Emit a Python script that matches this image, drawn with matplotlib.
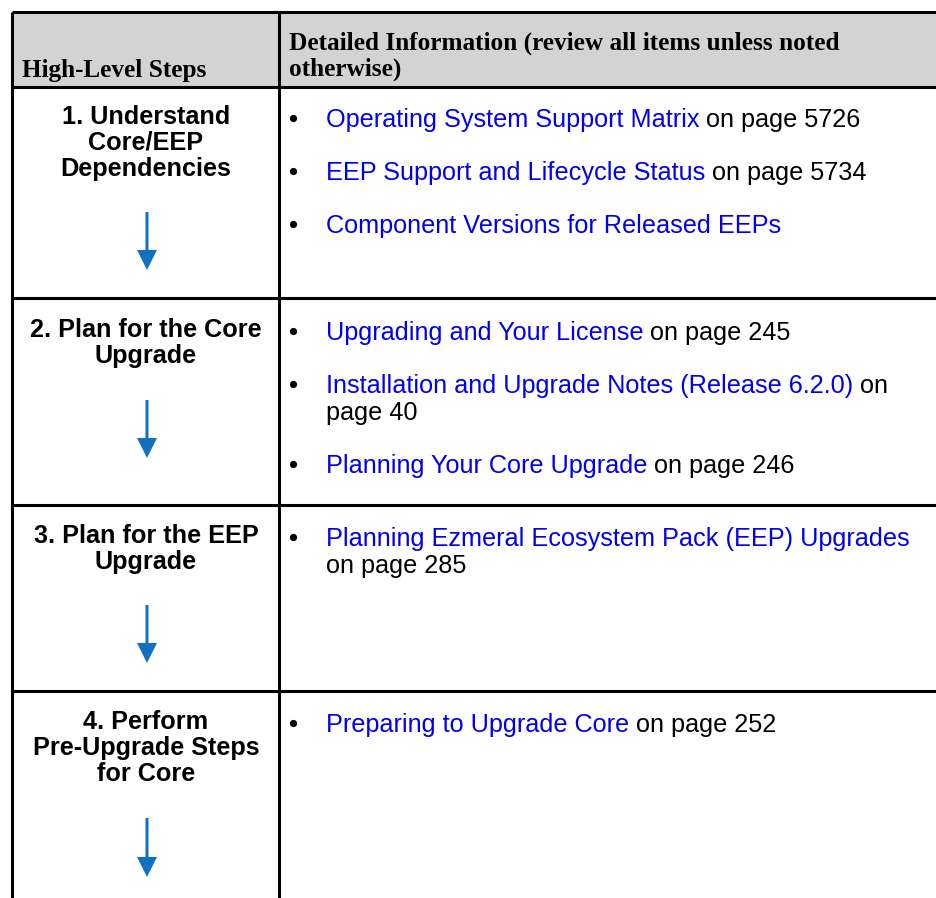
import matplotlib
matplotlib.use("Agg")
import matplotlib.pyplot as plt
from matplotlib.patches import Rectangle, FancyArrow

W, H = 937, 898
DPI = 100

header_left = "High-Level Steps"
header_right = ["Detailed Information (review all items unless noted", "otherwise)"]

steps = [
    ["1. Understand", "Core/EEP", "Dependencies"],
    ["2. Plan for the Core", "Upgrade"],
    ["3. Plan for the EEP", "Upgrade"],
    ["4. Perform", "Pre-Upgrade Steps", "for Core"],
]

# each item: list of lines; each line: (link text, plain text)
items = [
    [
        [("Operating System Support Matrix", " on page 5726")],
        [("EEP Support and Lifecycle Status", " on page 5734")],
        [("Component Versions for Released EEPs", "")],
    ],
    [
        [("Upgrading and Your License", " on page 245")],
        [("Installation and Upgrade Notes (Release 6.2.0)", " on"), ("", "page 40")],
        [("Planning Your Core Upgrade", " on page 246")],
    ],
    [
        [("Planning Ezmeral Ecosystem Pack (EEP) Upgrades", ""), ("", "on page 285")],
    ],
    [
        [("Preparing to Upgrade Core", " on page 252")],
    ],
]

# layout (pixels)
x_left, x_mid, x_right = 12, 279, 945
y_top, y_head = 12, 87
row_bounds = [87, 298, 505, 691, 910]
item_first_y = [127, 340, 546, 732]
item_gap = 53
line_gap = 27
step_first_y = [124, 337, 543, 729]
step_gap = 26
arrow_y = [(212, 270), (400, 458), (605, 663), (818, 877)]
arrow_x = 147

LINK = "#0000ee"
ARROW = "#1170c0"
FS_BODY = 18.2
FS_STEP = 18.2
FS_HEAD = 18.2

fig = plt.figure(figsize=(W / DPI, H / DPI), dpi=DPI)
ax = fig.add_axes([0, 0, 1, 1])
ax.set_xlim(0, W)
ax.set_ylim(H, 0)
ax.axis("off")

# header background
ax.add_patch(Rectangle((x_left, y_top), x_right - x_left, y_head - y_top,
                       facecolor="#d3d3d3", edgecolor="none", zorder=0))
lw = 2.2
for y in [y_top, y_head] + row_bounds[1:-1]:
    ax.plot([x_left, x_right], [y, y], color="black", lw=lw, solid_capstyle="butt", zorder=3)
for x in [x_left, x_mid]:
    ax.plot([x, x], [y_top, H + 5], color="black", lw=lw, solid_capstyle="butt", zorder=3)

serif = ["Liberation Serif", "DejaVu Serif"]
sans = ["Liberation Sans", "DejaVu Sans"]

ax.text(22, 77, header_left, fontfamily=serif, fontweight="bold", fontsize=FS_HEAD,
        va="baseline", ha="left")
for i, t in enumerate(header_right):
    ax.text(289, 50 + i * 26, t, fontfamily=serif, fontweight="bold", fontsize=FS_HEAD,
            va="baseline", ha="left")

# steps
for r, lines in enumerate(steps):
    for j, t in enumerate(lines):
        ax.text(146, step_first_y[r] + j * step_gap, t, fontfamily=sans, fontweight="bold",
                fontsize=FS_STEP, ha="center", va="baseline")
    y0, y1 = arrow_y[r]
    ax.add_patch(FancyArrow(arrow_x, y0, 0, y1 - y0, width=3, head_width=20, head_length=20,
                            length_includes_head=True, color=ARROW, lw=0))

# items
fig.canvas.draw()
renderer = fig.canvas.get_renderer()
inv = ax.transData.inverted()
for r, row in enumerate(items):
    y = item_first_y[r]
    for item in row:
        ax.plot([293], [y - 9], marker="o", markersize=5.2, color="black", mec="none")
        for link, plain in item:
            x = 326
            if link:
                t = ax.text(x, y, link, fontfamily=sans, fontsize=FS_BODY, color=LINK,
                            ha="left", va="baseline")
                bb = t.get_window_extent(renderer)
                x = inv.transform((bb.x1, bb.y0))[0]
            if plain:
                ax.text(x, y, plain, fontfamily=sans, fontsize=FS_BODY, color="black",
                        ha="left", va="baseline")
            y += line_gap
        y += item_gap - line_gap

fig.savefig("out.png", dpi=DPI)
